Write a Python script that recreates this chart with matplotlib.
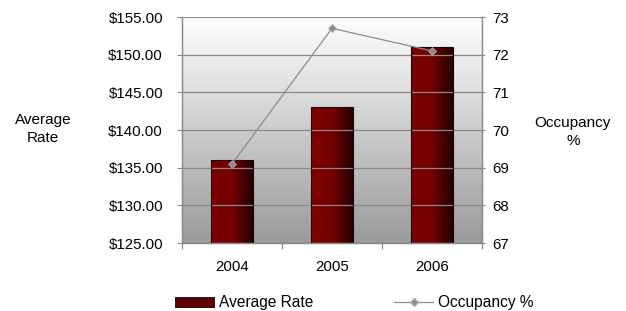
import numpy as np
import matplotlib
matplotlib.use("Agg")
import matplotlib.pyplot as plt
from matplotlib.colors import LinearSegmentedColormap
from matplotlib.patches import Patch
from matplotlib.lines import Line2D
from matplotlib.ticker import FuncFormatter

plt.rcParams['font.family'] = ['Liberation Sans', 'DejaVu Sans']

years = ["2004", "2005", "2006"]
avg_rate = [136.0, 143.0, 151.0]
occupancy = [69.1, 72.7, 72.1]

fig = plt.figure(figsize=(6.26, 3.11), dpi=100)
ax = fig.add_axes([0.2907, 0.2186, 0.4792, 0.7267])
ax2 = ax.twinx()

x = np.arange(len(years))

# background gradient
bg_cmap = LinearSegmentedColormap.from_list("bg", ["#9a9a9a", "#ffffff"])
grad = np.linspace(0, 1, 256).reshape(-1, 1)
ax.imshow(grad, aspect='auto', cmap=bg_cmap, origin='lower',
          extent=[-0.5, len(years) - 0.5, 125, 155], zorder=0)

ax.set_yticks(np.arange(125, 156, 5))
ax.yaxis.set_major_formatter(FuncFormatter(lambda v, p: f"${v:.2f}"))
ax.grid(axis='y', color='#8a8a8a', linewidth=0.9, zorder=1)
ax.set_axisbelow(False)

bars = ax.bar(x, [v - 125 for v in avg_rate], bottom=125, width=0.42,
              color='none', edgecolor='#1a0000', linewidth=0.8, zorder=3)
bar_cmap = LinearSegmentedColormap.from_list("bar", ["#7e0000", "#760000", "#220000"])
hgrad = np.linspace(0, 1, 256).reshape(1, -1)
for b in bars:
    x0, y0 = b.get_x(), b.get_y()
    w, h = b.get_width(), b.get_height()
    im = ax.imshow(hgrad, aspect='auto', cmap=bar_cmap,
                   extent=[x0, x0 + w, y0, y0 + h], zorder=2)
    im.set_clip_path(b)
ax.set_xlim(-0.5, len(years) - 0.5)
ax.set_ylim(125, 155)
ax2.set_ylim(67, 73)

ax2.plot(x, occupancy, color='#8c8c8c', linewidth=0.9, marker='D',
         markersize=4.5, markerfacecolor='#8c8c8c', markeredgecolor='#b0b0b0',
         markeredgewidth=0.5, zorder=5)
ax2.set_yticks(np.arange(67, 74, 1))

ax.set_xticks([-0.5, 0.5, 1.5, 2.5], minor=False)
ax.set_xticklabels([])
ax.set_xticks(x, minor=True)
ax.set_xticklabels(years, minor=True)
ax.tick_params(axis='x', which='minor', length=0, pad=12, labelsize=10.8)
ax.tick_params(axis='x', which='major', length=4, color='#8a8a8a', direction='out')
ax.tick_params(axis='y', length=3.6, color='#8a8a8a', labelsize=10.8, pad=10)
ax2.tick_params(axis='y', length=2.5, color='#8a8a8a', labelsize=10.8, pad=5)

for a in (ax, ax2):
    for s in a.spines.values():
        s.set_color('#8a8a8a')
        s.set_linewidth(0.9)
    a.spines['top'].set_visible(False)

fig.text(0.069, 0.585, "Average\nRate", ha='center', va='center', fontsize=11,
         linespacing=1.3)
fig.text(0.915, 0.576, "Occupancy\n%", ha='center', va='center', fontsize=11,
         linespacing=1.3)

handles = [Patch(facecolor='#5a0000', edgecolor='#1a0000', linewidth=0.6),
           Line2D([0], [0], color='#8c8c8c', linewidth=0.9, marker='D',
                  markersize=4, markerfacecolor='#8c8c8c', markeredgecolor='#b0b0b0')]
fig.legend(handles, ["Average Rate", "Occupancy %"], loc='center',
           bbox_to_anchor=(0.566, 0.026), ncol=2, frameon=False, fontsize=11.2,
           columnspacing=5.2, handlelength=2.5, handletextpad=0.3)

fig.savefig("out.png", dpi=100)
